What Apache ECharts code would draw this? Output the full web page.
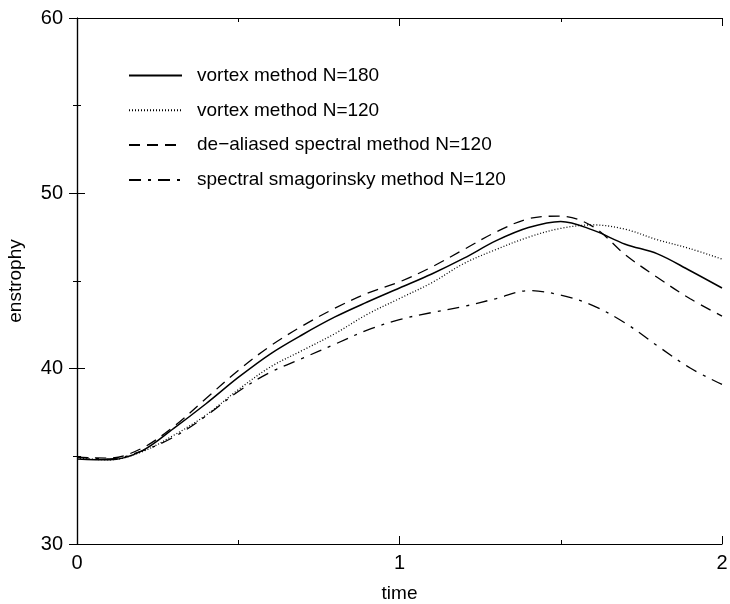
<!DOCTYPE html>
<html>
<head>
<meta charset="utf-8">
<script src="https://cdn.jsdelivr.net/npm/echarts@6/dist/echarts.min.js"></script>
<style>
  html, body { margin: 0; padding: 0; background: #ffffff; }
  #chart { width: 730px; height: 604px; }
</style>
</head>
<body>
<div id="chart"></div>
<script>
// time samples shared by all curves
const times = [0, 0.1, 0.2, 0.3, 0.4, 0.5, 0.6, 0.7, 0.8, 0.9, 1.0,
               1.1, 1.2, 1.3, 1.4, 1.5, 1.6, 1.7, 1.8, 1.9, 2.0];

const vortex180 = [34.85, 34.8, 35.3, 36.6, 38.0, 39.5, 40.85, 41.95, 42.95, 43.8, 44.6,
                   45.4, 46.3, 47.3, 48.05, 48.4, 47.9, 47.1, 46.55, 45.6, 44.6];
const vortex120 = [34.9, 34.8, 35.25, 36.2, 37.35, 38.8, 40.1, 41.05, 42.0, 43.1, 44.0,
                   44.9, 46.0, 46.8, 47.5, 48.0, 48.2, 47.95, 47.35, 46.85, 46.25];
const dealiased = [34.95, 34.9, 35.45, 36.7, 38.3, 39.9, 41.3, 42.45, 43.45, 44.3, 44.95,
                   45.8, 46.8, 47.8, 48.55, 48.7, 48.1, 46.5, 45.2, 44.0, 43.0];
const smagorinsky = [34.95, 34.85, 35.3, 36.1, 37.3, 38.7, 39.8, 40.6, 41.4, 42.2, 42.8,
                     43.2, 43.55, 44.0, 44.45, 44.2, 43.6, 42.6, 41.3, 40.05, 39.1];

const seriesNames = [
  "vortex method N=180",
  "vortex method N=120",
  "de\u2212aliased spectral method N=120",
  "spectral smagorinsky method N=120"
];

const fontFamily = "'Liberation Sans', Arial, sans-serif";

const pairs = (vals) => times.map((t, i) => [t, vals[i]]);

const makeSeries = (name, vals, type, width) => ({
  name,
  type: "line",
  data: pairs(vals),
  smooth: 0.35,
  symbol: "none",
  lineStyle: { color: "#000", width, type },
  itemStyle: { color: "#000" },
  emphasis: { disabled: true },
  silent: true,
  animation: false
});

const chart = echarts.init(document.getElementById("chart"));

const baseAxis = {
  axisLine: { show: true, lineStyle: { color: "#000", width: 1.2 } },
  splitLine: { show: false },
  minorSplitLine: { show: false }
};

chart.setOption({
  animation: false,
  grid: { left: 77, right: 8, top: 18, bottom: 60, show: false, outerBoundsMode: "none", containLabel: false },
  legend: {
    orient: "vertical",
    left: 128,
    top: 66,
    padding: 0,
    itemWidth: 53,
    itemHeight: 20,
    itemGap: 15.8,
    selectedMode: false,
    itemStyle: { opacity: 0 },
    textStyle: {
      fontFamily,
      fontSize: 19,
      color: "#000",
      padding: [0, 0, 0, 10]
    },
    data: seriesNames
  },
  xAxis: [
    Object.assign({}, baseAxis, {
      type: "value",
      min: 0,
      max: 2,
      interval: 1,
      name: "time",
      nameLocation: "middle",
      nameGap: 40,
      nameTextStyle: { fontFamily, fontSize: 19, color: "#000" },
      axisTick: { inside: true, length: 8, lineStyle: { color: "#000" } },
      minorTick: { show: true, splitNumber: 2, length: 4, lineStyle: { color: "#000" } },
      axisLabel: { fontFamily, fontSize: 20, color: "#000", margin: 9 }
    }),
    Object.assign({}, baseAxis, {
      type: "value",
      position: "top",
      min: 0,
      max: 2,
      interval: 1,
      axisTick: { inside: true, length: 8, lineStyle: { color: "#000" } },
      minorTick: { show: true, splitNumber: 2, length: 4, lineStyle: { color: "#000" } },
      axisLabel: { show: false }
    })
  ],
  yAxis: [
    Object.assign({}, baseAxis, {
      type: "value",
      min: 30,
      max: 60,
      interval: 10,
      name: "enstrophy",
      nameLocation: "middle",
      nameGap: 52,
      nameTextStyle: { fontFamily, fontSize: 19, color: "#000" },
      axisTick: { inside: true, length: 8, lineStyle: { color: "#000" } },
      minorTick: { show: true, splitNumber: 2, length: 4, lineStyle: { color: "#000" } },
      axisLabel: { fontFamily, fontSize: 20, color: "#000", margin: 14 }
    }),
    Object.assign({}, baseAxis, {
      type: "value",
      position: "right",
      min: 30,
      max: 60,
      interval: 10,
      axisTick: { inside: true, length: 8, lineStyle: { color: "#000" } },
      minorTick: { show: true, splitNumber: 2, length: 4, lineStyle: { color: "#000" } },
      axisLabel: { show: false }
    })
  ],
  series: [
    makeSeries(seriesNames[0], vortex180, "solid", 1.5),
    makeSeries(seriesNames[1], vortex120, [1, 2], 1.3),
    makeSeries(seriesNames[2], dealiased, [11, 7], 1.3),
    makeSeries(seriesNames[3], smagorinsky, [12, 7, 3, 7], 1.3)
  ]
});
</script>
</body>
</html>
